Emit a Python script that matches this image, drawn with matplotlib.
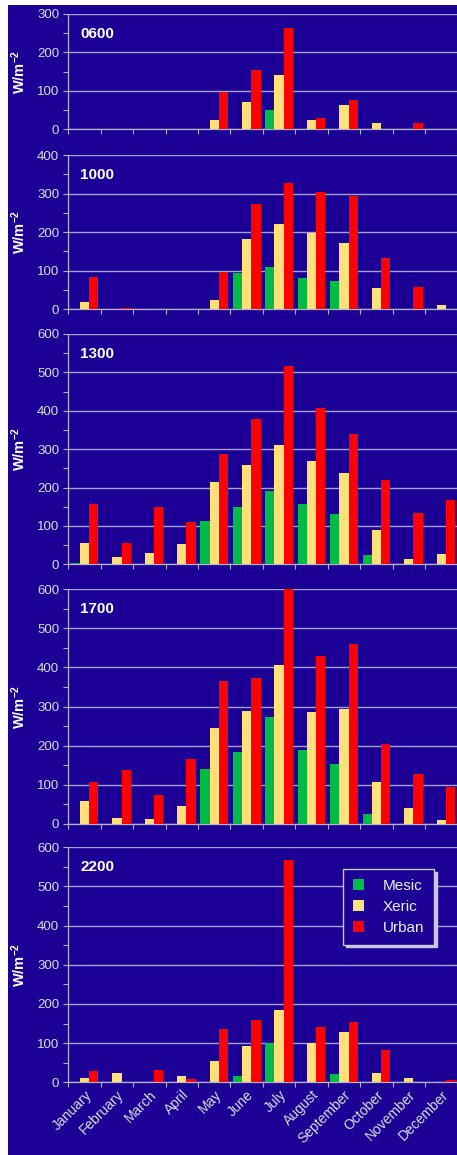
import matplotlib
matplotlib.use("Agg")
import matplotlib.pyplot as plt
from matplotlib.patches import Rectangle, Patch
from matplotlib.ticker import MultipleLocator, FixedLocator, NullFormatter
import numpy as np

plt.rcParams['font.family'] = ['Liberation Sans', 'DejaVu Sans']
plt.rcParams['mathtext.fontset'] = 'custom'
plt.rcParams['mathtext.rm'] = 'Liberation Sans'
plt.rcParams['mathtext.bf'] = 'Liberation Sans:bold'

# ---- data -----------------------------------------------------------------
months = ['January', 'February', 'March', 'April', 'May', 'June', 'July',
          'August', 'September', 'October', 'November', 'December']
hours = ['0600', '1000', '1300', '1700', '2200']
series_names = ['Mesic', 'Xeric', 'Urban']

mesic_0600 = [0, 0, 0, 0, 0, 0, 50, 0, 0, 0, 0, 0]
xeric_0600 = [0, 0, 0, 0, 23, 70, 141, 23, 63, 17, 0, 0]
urban_0600 = [0, 2, 0, 0, 97, 153, 264, 30, 77, 0, 17, 0]

mesic_1000 = [0, 0, 0, 0, 0, 93, 110, 80, 73, 0, 0, 0]
xeric_1000 = [20, 0, 0, 0, 23, 183, 220, 197, 173, 54, 0, 10]
urban_1000 = [84, 3, 0, 0, 97, 274, 328, 304, 295, 134, 58, 0]

mesic_1300 = [4, 0, 0, 0, 114, 148, 191, 156, 131, 23, 0, 0]
xeric_1300 = [55, 19, 30, 53, 214, 259, 312, 268, 238, 89, 13, 26]
urban_1300 = [156, 55, 148, 110, 288, 378, 516, 408, 340, 220, 134, 168]

mesic_1700 = [0, 0, 0, 0, 139, 184, 273, 189, 153, 25, 0, 0]
xeric_1700 = [58, 15, 13, 46, 244, 289, 406, 287, 294, 107, 41, 10]
urban_1700 = [107, 137, 74, 166, 365, 374, 600, 428, 459, 205, 127, 93]

mesic_2200 = [0, 0, 0, 0, 0, 17, 100, 0, 20, 0, 0, 0]
xeric_2200 = [10, 23, 0, 15, 54, 93, 185, 100, 129, 25, 10, 0]
urban_2200 = [30, 0, 32, 8, 135, 158, 568, 142, 155, 83, 0, 6]

y_max = [300, 400, 600, 600, 600]

panels = [
    (mesic_0600, xeric_0600, urban_0600),
    (mesic_1000, xeric_1000, urban_1000),
    (mesic_1300, xeric_1300, urban_1300),
    (mesic_1700, xeric_1700, urban_1700),
    (mesic_2200, xeric_2200, urban_2200),
]

# ---- styling --------------------------------------------------------------
BG = '#1c0096'
COLORS = ['#00bb44', '#ffdf7a', '#ff0000']
GRID = '#a4a4d4'
SPINE = '#b4b4c8'
TICKTXT = '#dcdce4'

W, H = 457, 1155
fig = plt.figure(figsize=(W / 100, H / 100), dpi=100, facecolor='white')
fig.patches.append(Rectangle((8 / W, 0), 1, 1 - 5 / H, transform=fig.transFigure,
                             facecolor=BG, edgecolor='none', zorder=-10))

# panel extents in pixels: (top of y-range, zero line)
extents = [(14, 129.3), (155, 309.3), (334, 564.3), (589.3, 823.7), (847.3, 1082.3)]
x_left, x_right = 68.3, 457.5

bar_w = 0.285
x = np.arange(len(months)) + 0.5

axes = []
for i, ((top, zero), vals, ymax, hour) in enumerate(zip(extents, panels, y_max, hours)):
    ax = fig.add_axes([x_left / W, 1 - zero / H, (x_right - x_left) / W, (zero - top) / H])
    ax.set_facecolor('none')
    for k, (v, c) in enumerate(zip(vals, COLORS)):
        ax.bar(x + (k - 1) * bar_w, v, width=bar_w, color=c, linewidth=0,
               zorder=3, label=series_names[k])
    ax.set_xlim(0, 12)
    ax.set_ylim(0, ymax)

    ax.yaxis.set_major_locator(MultipleLocator(100))
    ax.yaxis.set_minor_locator(MultipleLocator(50))
    ax.grid(axis='y', which='major', color=GRID, linewidth=1.0, zorder=1)
    ax.tick_params(axis='y', which='both', direction='out', length=3.5, width=0.8,
                   color=SPINE, labelcolor=TICKTXT, labelsize=9.5, pad=3)

    ax.xaxis.set_major_locator(FixedLocator(np.arange(0, 13)))
    ax.xaxis.set_major_formatter(NullFormatter())
    ax.xaxis.set_minor_locator(FixedLocator(x))
    ax.tick_params(axis='x', which='major', direction='out', length=3.5, width=0.8,
                   color=SPINE)
    ax.tick_params(axis='x', which='minor', length=0, labelcolor=TICKTXT,
                   labelsize=10, pad=4)
    if i == len(panels) - 1:
        ax.set_xticklabels(months, minor=True, rotation=45, ha='right',
                           rotation_mode='anchor')
    else:
        ax.xaxis.set_minor_formatter(NullFormatter())

    for s in ('top', 'right'):
        ax.spines[s].set_visible(False)
    ax.spines['left'].set_color(SPINE)
    ax.spines['bottom'].set_color(SPINE)
    ax.spines['left'].set_linewidth(0.9)
    ax.spines['bottom'].set_linewidth(0.9)

    ax.set_ylabel(r'$\mathbf{W/m^{-2}}$', color='white', fontsize=10.5)
    ax.yaxis.set_label_coords(-40 / (x_right - x_left), 0.5)

    ax.annotate(hour, xy=(0, 1), xycoords='axes fraction', xytext=(12, -20),
                textcoords='offset pixels', ha='left', va='center',
                color='white', fontsize=11, fontweight='bold')
    axes.append(ax)

handles = [Patch(facecolor=c, edgecolor='none', label=n) for c, n in zip(COLORS, series_names)]
leg = fig.legend(handles=handles, loc='upper left',
                 bbox_to_anchor=(343 / W, 1 - 869 / H), bbox_transform=fig.transFigure,
                 borderaxespad=0, fontsize=11, frameon=True, fancybox=False,
                 facecolor=BG, edgecolor='#c8c8dc', framealpha=1,
                 handlelength=0.75, handleheight=0.75, handletextpad=1.2,
                 labelspacing=0.45, borderpad=0.65,
                 shadow={'facecolor': '#c8c8dc', 'edgecolor': '#c8c8dc', 'alpha': 1})
leg.get_frame().set_linewidth(1.0)
for t in leg.get_texts():
    t.set_color('#eeeef4')

fig.savefig('out.png', dpi=100, facecolor=fig.get_facecolor())
